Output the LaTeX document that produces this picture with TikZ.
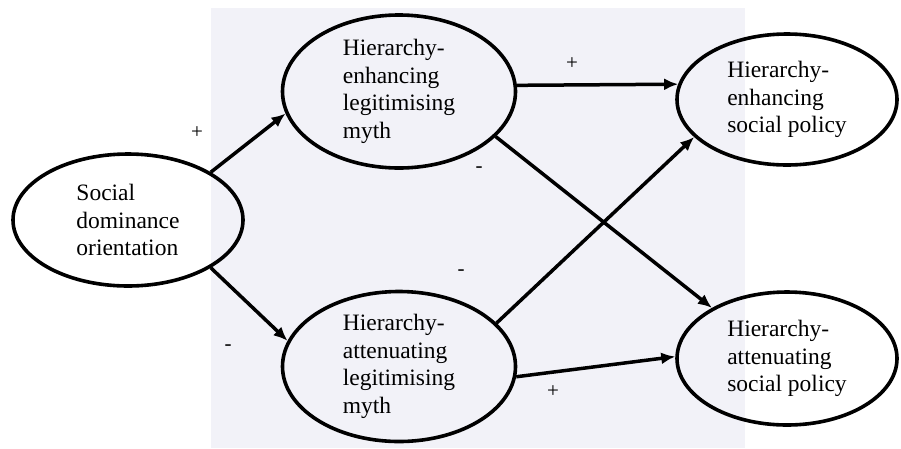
\documentclass[tikz,border=0pt]{standalone}
\usepackage{fontspec}
\setmainfont{Liberation Serif}
\usetikzlibrary{arrows.meta,shapes.geometric}
\definecolor{wmark}{RGB}{242,242,248}
\tikzset{
  var/.style={ellipse,draw=black,line width=3.6pt,inner sep=0pt,align=left,
    font=\fontsize{23.5}{27.5}\selectfont},
  link/.style={line width=3.5pt,-{Latex[length=14pt,width=12pt]}},
  sign/.style={font=\fontsize{21}{24}\selectfont,inner sep=0pt}
}
\begin{document}
\begin{tikzpicture}[x=1pt,y=-1pt]
\useasboundingbox (0,0) rectangle (901,448);
\fill[wmark] (211,8) rectangle (745,448);
\node[var,minimum width=230pt,minimum height=132pt] (sdo) at (128,220) {Social\\dominance\\orientation};
\node[var,minimum width=233pt,minimum height=153pt] (hem) at (399,91.5) {Hierarchy-\\enhancing\\legitimising\\myth};
\node[var,minimum width=233pt,minimum height=150pt] (ham) at (399,366.5) {Hierarchy-\\attenuating\\legitimising\\myth};
\node[var,minimum width=220pt,minimum height=131pt] (hep) at (787,99.5) {Hierarchy-\\enhancing\\social policy};
\node[var,minimum width=220pt,minimum height=133pt] (hap) at (787,358.5) {Hierarchy-\\attenuating\\social policy};
\draw[link] (sdo.30) -- (hem.191);
\draw[link] (sdo.-30) -- (ham.167);
\draw[link] (hem.3) -- (hep.172);
\draw[link] (hem.-25) -- (hap.146);
\draw[link] (ham.24) -- (hep.202);
\draw[link] (ham.-5) -- (hap.179);
\node[sign] (s1) at (197,133) {+};
\node[sign] (s2) at (228,348) {-};
\node[sign] (s3) at (572,64) {+};
\node[sign] (s4) at (479,170) {-};
\node[sign] (s5) at (461,273) {-};
\node[sign] (s6) at (553,392) {+};
\end{tikzpicture}
\end{document}
